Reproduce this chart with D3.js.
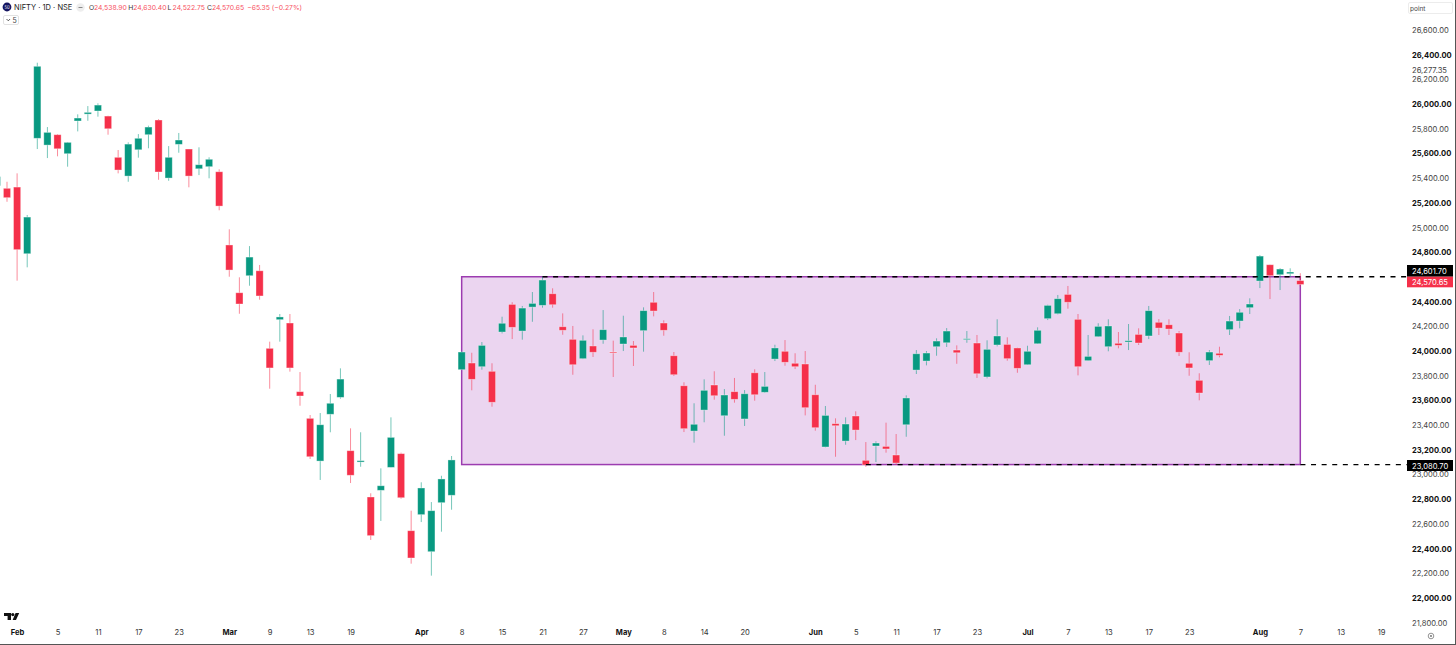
<!DOCTYPE html>
<html>
<head>
<meta charset="utf-8">
<script src="https://cdn.jsdelivr.net/npm/d3@7/dist/d3.min.js"></script>
<style>
  html, body { margin: 0; padding: 0; background: #fff; overflow: hidden; }
  svg { display: block; font-family: Inter, "Noto Sans", sans-serif; }
</style>
</head>
<body>
<svg id="chart" width="1456" height="645" viewBox="0 0 1456 645"></svg>
<script>
// --- Daily candles. First one is cut by the left edge ---
const opens = [
  25339, 25318, 25328, 24788, 25723, 25668, 25752, 25598, 25863, 25919, 25944, 25903, 25569,
  25417, 25630, 25752, 25871, 25401, 25674, 25636, 25476, 25493, 25452, 24859, 24472, 24610,
  24650, 24022, 24254, 24227, 23671, 23455, 23109, 23488, 23625, 23193, 23101, 22818, 22872,
  23058, 23169, 22545, 22675, 22375, 22772, 22832, 23849, 23903, 23873, 23836, 24154, 24378,
  24162, 24356, 24370, 24464, 24197, 24095, 23938, 24041, 24089, 23992, 24057, 24046, 24165,
  24395, 24227, 23962, 23719, 23352, 23522, 23725, 23476, 23671, 23450, 23824, 23666, 23935,
  23998, 23901, 23895, 23646, 23223, 23412, 23271, 23474, 23115, 23231, 23228, 23158, 23403,
  23846, 23919, 24035, 24067, 24008, 24095, 24065, 23790, 24049, 24054, 24025, 23889, 24059,
  24262, 24302, 24459, 24257, 23922, 24116, 24035, 24063, 24073, 24135, 24122, 24233, 24213,
  24146, 23901, 23763, 23922, 23982, 24173, 24243, 24351, 24567, 24699, 24618, 24626, 24570.65
];
const highs = [
  25425, 25371, 25439, 25102, 26335, 25814, 25757, 25693, 25917, 25984, 26006, 25906, 25628,
  25690, 25757, 25825, 25879, 25660, 25766, 25636, 25650, 25569, 25472, 24986, 24597, 24850,
  24697, 24076, 24300, 24300, 23830, 23482, 23498, 23652, 23860, 23374, 23342, 22848, 23050,
  23463, 23177, 22707, 22937, 22777, 22990, 23150, 24000, 23986, 24073, 23901, 24278, 24395,
  24365, 24478, 24602, 24508, 24305, 24203, 24127, 24176, 24332, 24084, 24286, 24081, 24354,
  24478, 24249, 23992, 23747, 23577, 23771, 23836, 23692, 23782, 23684, 23852, 23830, 24051,
  24089, 23982, 24000, 23727, 23555, 23455, 23463, 23512, 23263, 23269, 23420, 23328, 23641,
  24008, 24000, 24103, 24186, 24046, 24162, 24130, 24087, 24257, 24111, 24027, 24043, 24192,
  24375, 24454, 24527, 24300, 24130, 24225, 24257, 24154, 24219, 24184, 24365, 24259, 24257,
  24162, 23990, 23820, 24008, 24035, 24284, 24340, 24427, 24778, 24699, 24672, 24670, 24630.4
];
const lows = [
  25328, 25209, 24570, 24678, 25636, 25563, 25577, 25493, 25779, 25865, 25898, 25752, 25439,
  25371, 25566, 25642, 25387, 25379, 25606, 25326, 25425, 25399, 25140, 24602, 24302, 24529,
  24416, 23695, 24076, 23833, 23557, 23126, 22956, 23342, 23614, 22931, 23063, 22470, 22624,
  23058, 22804, 22278, 22615, 22181, 22537, 22715, 23846, 23682, 23849, 23549, 24143, 24097,
  24092, 24237, 24351, 24351, 24132, 23808, 23935, 23952, 24059, 23790, 24000, 23879, 23995,
  24281, 24124, 23798, 23344, 23258, 23423, 23606, 23314, 23582, 23393, 23598, 23662, 23919,
  23881, 23854, 23479, 23355, 23220, 23144, 23241, 23279, 23063, 23101, 23177, 23077, 23306,
  23814, 23884, 23962, 24033, 23897, 24067, 23782, 23779, 24038, 23922, 23824, 23887, 24057,
  24251, 24297, 24343, 23803, 23922, 24114, 23998, 24022, 24008, 24049, 24097, 24130, 24130,
  23960, 23800, 23601, 23887, 23949, 24130, 24184, 24300, 24510, 24421, 24494, 24597, 24522.75
];
const closes = [
  25412, 25242, 24821, 25085, 26306, 25771, 25638, 25690, 25887, 25933, 25992, 25800, 25466,
  25676, 25723, 25814, 25450, 25569, 25709, 25417, 25509, 25553, 25174, 24656, 24381, 24761,
  24446, 23863, 24276, 23863, 23636, 23144, 23403, 23577, 23773, 22994, 23112, 22505, 22909,
  23301, 22812, 22324, 22891, 22707, 22964, 23118, 23992, 23771, 24046, 23585, 24225, 24192,
  24348, 24386, 24575, 24375, 24168, 23889, 24087, 23990, 24173, 23986, 24114, 24025, 24327,
  24324, 24168, 23808, 23371, 23407, 23682, 23638, 23644, 23609, 23654, 23646, 23714, 24025,
  23909, 23873, 23541, 23379, 23479, 23395, 23409, 23360, 23077, 23255, 23207, 23093, 23620,
  23978, 23984, 24081, 24162, 23986, 24100, 23816, 24014, 24122, 23938, 23860, 23998, 24168,
  24370, 24424, 24395, 23873, 23957, 24200, 24203, 24046, 24084, 24065, 24327, 24186, 24178,
  23990, 23863, 23660, 23992, 23965, 24243, 24314, 24381, 24769, 24610, 24664, 24640, 24538.9
];

// --- Price axis ---
const priceTicks = [
  26600, 26400, 26277.35, 26200, 26000, 25800, 25600, 25400, 25200, 25000, 24800,
  24400, 24200, 24000, 23800, 23600, 23400, 23200, 23000, 22800, 22600, 22400, 22200, 22000, 21800
];
const boldPriceTicks = [
  26400, 26000, 25600, 25200, 24800, 24400, 24000, 23600, 23200, 22800, 22400, 22000
];

// --- Time axis: candle number each label sits under ---
const timeTickBars = [2, 6, 10, 14, 18, 23, 27, 31, 35, 42, 46, 50, 54, 58, 62, 66, 70, 74,
  81, 85, 89, 93, 97, 102, 106, 110, 114, 118, 125, 129, 133, 137];
const timeTickLabels = ["Feb", "5", "11", "17", "23", "Mar", "9", "13", "19", "Apr", "8", "15", "21", "27",
  "May", "8", "14", "20", "Jun", "5", "11", "17", "23", "Jul", "7", "13", "17", "23", "Aug", "7", "13", "19"];
const monthLabels = ["Feb", "Mar", "Apr", "May", "Jun", "Jul", "Aug"];

// --- Range box and levels ---
const rangeHigh = 24601.70;
const rangeLow = 23080.70;
const rangeStartBar = 46;
const rangeEndBar = 129;
const rangeHighBar = 54;
const rangeLowBar = 86;
const lastPrice = 24570.65;

const header = [["O", "24,538.90"], ["H", "24,630.40"], ["L", "24,522.75"], ["C", "24,570.65"]];
const headerChange = "\u221265.35 (\u22120.27%)";

const GREEN = "#089981";
const RED = "#f5304a";
const AXIS_X = 1408;

const svg = d3.select("#chart");
const x = d3.scaleLinear().domain([1, 129]).range([7, 1300.3]);
const y = d3.scaleLinear().domain([22000, 26600]).range([598, 30]);
const fmt = d3.format(",.2f");
const bars = opens.map((o, i) => ({ i, o, h: highs[i], l: lows[i], c: closes[i] }));
const color = d => d.c < d.o ? RED : GREEN;

// range box sits behind the candles
svg.append("rect")
    .attr("x", x(rangeStartBar)).attr("y", y(rangeHigh))
    .attr("width", x(rangeEndBar) - x(rangeStartBar)).attr("height", y(rangeLow) - y(rangeHigh))
    .attr("fill", "#ebd5f0").attr("stroke", "#9c3cb0").attr("stroke-width", 1.5);

const candles = svg.append("g").selectAll("g").data(bars).enter().append("g");
candles.append("line")
    .attr("x1", d => x(d.i)).attr("x2", d => x(d.i))
    .attr("y1", d => y(d.h)).attr("y2", d => y(d.l))
    .attr("stroke", color).attr("stroke-width", 1).attr("stroke-opacity", 0.55);
candles.append("rect")
    .attr("x", d => x(d.i) - 3.6).attr("width", 7.2)
    .attr("y", d => y(Math.max(d.o, d.c)))
    .attr("height", d => Math.max(1, Math.abs(y(d.o) - y(d.c))))
    .attr("fill", color)
    .attr("stroke", "#fff").attr("stroke-opacity", 0.45).attr("stroke-width", 0.8);

// dashed levels from the touching candle out to the price axis
const levels = [[rangeHigh, rangeHighBar], [rangeLow, rangeLowBar]];
svg.append("g").selectAll("line").data(levels).enter().append("line")
    .attr("x1", d => x(d[1])).attr("x2", AXIS_X)
    .attr("y1", d => y(d[0])).attr("y2", d => y(d[0]))
    .attr("stroke", "#000").attr("stroke-width", 1.3).attr("stroke-dasharray", "5 5.6");

// price axis
const yAxis = svg.append("g").attr("transform", `translate(${AXIS_X},0)`)
    .call(d3.axisRight(y).tickValues(priceTicks).tickFormat(fmt).tickSize(0).tickPadding(4));
yAxis.select(".domain").remove();
yAxis.selectAll("text")
    .attr("font-family", "Inter, sans-serif")
    .attr("font-size", 7.6)
    .attr("fill", d => boldPriceTicks.includes(d) ? "#111" : "#444")
    .attr("font-weight", d => boldPriceTicks.includes(d) ? 700 : 400);

// time axis
const xAxis = svg.append("g").attr("transform", "translate(0,625)")
    .call(d3.axisBottom(x).tickValues(timeTickBars)
        .tickFormat((d, i) => timeTickLabels[i]).tickSize(0).tickPadding(5));
xAxis.select(".domain").remove();
xAxis.selectAll("text")
    .attr("font-family", "Inter, sans-serif")
    .attr("font-size", 7.6)
    .attr("fill", (d, i) => monthLabels.includes(timeTickLabels[i]) ? "#111" : "#333")
    .attr("font-weight", (d, i) => monthLabels.includes(timeTickLabels[i]) ? 700 : 400);

// price tags on the axis
const tags = [[rangeHigh, 265, 11.7, "#000"], [lastPrice, 276.7, 10.6, RED], [rangeLow, 460, 11, "#000"]];
const tag = svg.append("g").selectAll("g").data(tags).enter().append("g");
tag.append("rect")
    .attr("x", AXIS_X - 1).attr("y", d => d[1]).attr("width", 46).attr("height", d => d[2])
    .attr("fill", d => d[3]);
tag.append("text")
    .attr("x", AXIS_X + 4).attr("y", d => d[1] + d[2] / 2 + 3)
    .attr("font-size", 7.6).attr("fill", "#fff")
    .text(d => fmt(d[0]));

// header line
const head = svg.append("g").attr("font-size", 6.8);
head.append("circle").attr("cx", 7).attr("cy", 7).attr("r", 4.4).attr("fill", "#14145f");
head.append("text").attr("x", 7).attr("y", 8.6).attr("text-anchor", "middle")
    .attr("font-size", 4.2).attr("fill", "#fff").text("50");
head.append("text").attr("x", 14).attr("y", 10.4).attr("font-size", 7.5).attr("fill", "#222").text("NIFTY \u00b7 1D \u00b7 NSE");
head.append("circle").attr("cx", 80.5).attr("cy", 7.5).attr("r", 4.2).attr("fill", "#eee");
head.append("rect").attr("x", 78.5).attr("y", 7).attr("width", 4).attr("height", 1).attr("fill", "#888");
let headX = 89;
header.forEach(([k, v]) => {
    head.append("text").attr("x", headX).attr("y", 10.4).attr("fill", "#333").text(k);
    head.append("text").attr("x", headX + 5).attr("y", 10.4).attr("fill", "#f7525f").text(v);
    headX += 39.3;
});
head.append("text").attr("x", headX + 1).attr("y", 10.4).attr("fill", "#f7525f").text(headerChange);

// collapsed indicator button
svg.append("rect").attr("x", 3.5).attr("y", 15.5).attr("width", 15).attr("height", 9)
    .attr("rx", 1.5).attr("fill", "#fff").attr("stroke", "#e2e2e2");
svg.append("path").attr("d", "M6.5 19 l1.8 1.8 l1.8 -1.8").attr("fill", "none").attr("stroke", "#333").attr("stroke-width", 0.8);
svg.append("text").attr("x", 12.6).attr("y", 23).attr("font-size", 7).attr("fill", "#444").text("5");

// TradingView mark
svg.append("path").attr("fill", "#111")
    .attr("d", "M4 613 h7 v7 h-3.4 v-4 h-3.6 z M15.6 613 h3.6 l-3.2 7 h-3.4 z");
svg.append("circle").attr("cx", 12.8).attr("cy", 614.6).attr("r", 1.6).attr("fill", "#111");

// "point" field top right
svg.append("rect").attr("x", 1408.5).attr("y", 2.5).attr("width", 44).attr("height", 11)
    .attr("rx", 1.5).attr("fill", "#fff").attr("stroke", "#ececec");
svg.append("text").attr("x", 1410).attr("y", 10.5).attr("font-size", 6.5).attr("fill", "#444").text("point");

// settings dial at the axis corner
svg.append("circle").attr("cx", 1431).attr("cy", 636).attr("r", 2.8)
    .attr("fill", "none").attr("stroke", "#666").attr("stroke-width", 0.7);
svg.append("circle").attr("cx", 1431).attr("cy", 636).attr("r", 0.9).attr("fill", "#666");

// window edges
svg.append("line").attr("x1", 0).attr("x2", 1456).attr("y1", 644.5).attr("y2", 644.5).attr("stroke", "#555");
svg.append("line").attr("x1", 1455.5).attr("x2", 1455.5).attr("y1", 0).attr("y2", 645).attr("stroke", "#555");
</script>
</body>
</html>
